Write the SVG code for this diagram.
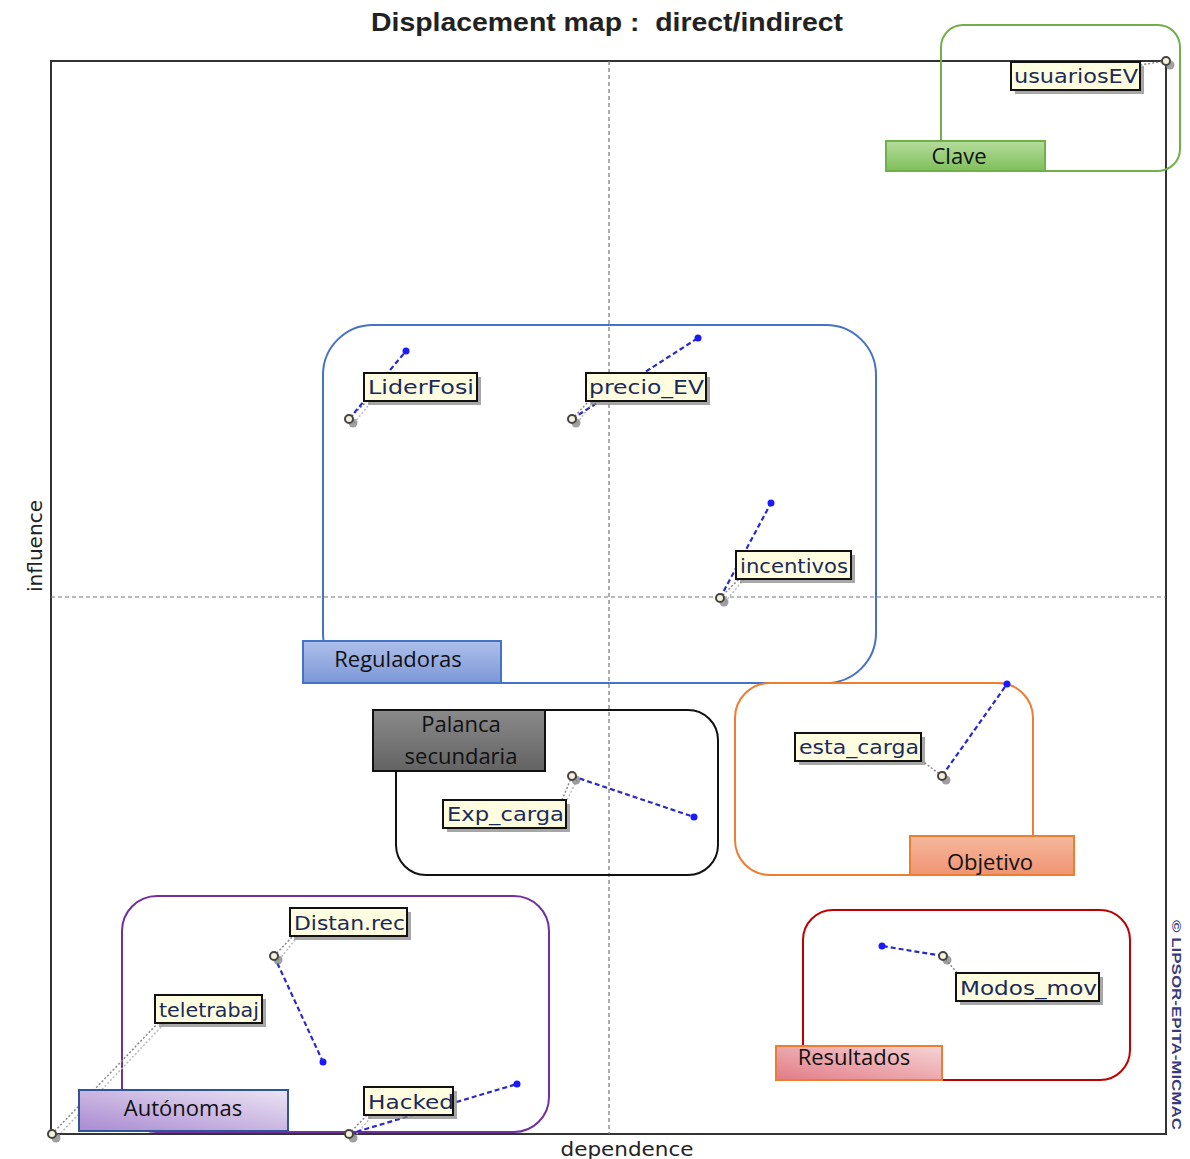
<svg xmlns="http://www.w3.org/2000/svg" width="1190" height="1159" viewBox="0 0 1190 1159">
  <defs>
    <style>
      .title{font-family:"Liberation Sans",Arial,sans-serif;font-weight:bold;font-size:26px;fill:#222}
      .axis{font-family:"DejaVu Sans","Liberation Sans",sans-serif;font-size:20px;fill:#222}
      .frame{fill:none;stroke:#333;stroke-width:2}
      .mid{fill:none;stroke:#777;stroke-width:1.2;stroke-dasharray:4 3}
      .lbl{fill:#fffde0;stroke:#111;stroke-width:2}
      .shadow{fill:#8a8a8a;opacity:0.75}
      .vname{font-family:"DejaVu Sans","Liberation Sans",sans-serif;font-size:20px;fill:#1a2a5a}
      .move{stroke:#2a2ac8;stroke-width:2.2;stroke-dasharray:5 3;fill:none}
      .dot{fill:#1a1aff}
      .lead{stroke:#888;stroke-width:1.5;stroke-dasharray:2 2;fill:none}
      .lead2{stroke:#bbb;stroke-width:1.5;stroke-dasharray:2 2;fill:none}
      .orig{fill:#f4f2d8;stroke:#444;stroke-width:2}
      .oshadow{fill:#777;opacity:0.7}
      .gname{font-family:"Open Sans","Liberation Sans",sans-serif;font-size:22px;fill:#111}
      .copy{font-family:"Liberation Sans",sans-serif;font-size:12px;font-weight:bold;fill:#3a3a7a}
    </style>
    <linearGradient id="gGreen" x1="0" y1="0" x2="0" y2="1">
      <stop offset="0" stop-color="#b5dc9c"/><stop offset="1" stop-color="#7fbf5a"/>
    </linearGradient>
    <linearGradient id="gBlue" x1="0" y1="0" x2="0" y2="1">
      <stop offset="0" stop-color="#aebfea"/><stop offset="1" stop-color="#7c97d8"/>
    </linearGradient>
    <linearGradient id="gGray" x1="0" y1="0" x2="0" y2="1">
      <stop offset="0" stop-color="#8a8a8a"/><stop offset="1" stop-color="#636363"/>
    </linearGradient>
    <linearGradient id="gOrange" x1="0" y1="0" x2="0" y2="1">
      <stop offset="0" stop-color="#f6b89c"/><stop offset="1" stop-color="#ef9473"/>
    </linearGradient>
    <linearGradient id="gPurple" x1="0" y1="1" x2="1" y2="0">
      <stop offset="0" stop-color="#a98ad0"/><stop offset="1" stop-color="#ece4f4"/>
    </linearGradient>
    <linearGradient id="gRed" x1="0" y1="1" x2="1" y2="0">
      <stop offset="0" stop-color="#e27b86"/><stop offset="1" stop-color="#f6d4d6"/>
    </linearGradient>
  </defs>

  <rect x="0" y="0" width="1190" height="1159" fill="#ffffff"/>

  <!-- chart frame and quadrant lines -->
  <g id="chart">
    <rect x="51" y="61" width="1115" height="1073" fill="#fcfcfc" class="frame"/>
    <line class="mid" x1="609" y1="61" x2="609" y2="1134"/>
    <line class="mid" x1="51" y1="597" x2="1166" y2="597"/>
    <text class="title" x="607" y="31" text-anchor="middle" textLength="472" lengthAdjust="spacingAndGlyphs" xml:space="preserve">Displacement map :  direct/indirect</text>
    <text class="axis" x="627" y="1156" text-anchor="middle" textLength="133" lengthAdjust="spacingAndGlyphs">dependence</text>
    <text class="axis" transform="translate(42,546) rotate(-90)" text-anchor="middle" textLength="92" lengthAdjust="spacingAndGlyphs">influence</text>
    <text class="copy" transform="translate(1172,1025) rotate(90)" text-anchor="middle" textLength="210" lengthAdjust="spacingAndGlyphs">© LIPSOR-EPITA-MICMAC</text>
  </g>

  <!-- cluster outlines -->
  <g id="cluster-clave">
    <rect x="941" y="25" width="239" height="146" rx="22" fill="none" stroke="#6fb04a" stroke-width="2"/>
  </g>
  <g id="cluster-reguladoras">
    <rect x="323" y="325" width="553" height="358" rx="50" fill="none" stroke="#4472c4" stroke-width="2"/>
  </g>
  <g id="cluster-palanca">
    <rect x="396" y="710" width="322" height="165" rx="30" fill="none" stroke="#111" stroke-width="2"/>
  </g>
  <g id="cluster-objetivo">
    <rect x="735" y="683" width="298" height="192" rx="35" fill="none" stroke="#ed7d31" stroke-width="2"/>
  </g>
  <g id="cluster-autonomas">
    <rect x="122" y="896" width="427" height="236" rx="35" fill="none" stroke="#7030a0" stroke-width="2"/>
  </g>
  <g id="cluster-resultados">
    <rect x="803" y="910" width="327" height="170" rx="30" fill="none" stroke="#c00000" stroke-width="2"/>
  </g>

  <!-- displacement connectors: direct position (circle) to indirect position (dot), plus label leaders -->
  <g id="connectors">
    <!-- leaders -->
    <line class="lead" x1="1166" y1="61" x2="1140" y2="65"/>
    <line class="lead" x1="349" y1="419" x2="368" y2="400"/><line class="lead2" x1="354" y1="423" x2="372" y2="401"/>
    <line class="lead" x1="572" y1="419" x2="590" y2="400"/><line class="lead2" x1="577" y1="423" x2="594" y2="401"/>
    <line class="lead" x1="720" y1="598" x2="740" y2="578"/><line class="lead2" x1="725" y1="602" x2="744" y2="579"/>
    <line class="lead" x1="942" y1="776" x2="921" y2="760"/>
    <line class="lead" x1="572" y1="776" x2="562" y2="800"/><line class="lead2" x1="577" y1="780" x2="567" y2="800"/>
    <line class="lead" x1="943" y1="956" x2="958" y2="974"/>
    <line class="lead" x1="274" y1="956" x2="294" y2="935"/><line class="lead2" x1="279" y1="960" x2="298" y2="936"/>
    <line class="lead" x1="52" y1="1134" x2="158" y2="1023"/><line class="lead2" x1="58" y1="1136" x2="164" y2="1024"/>
    <line class="lead" x1="349" y1="1134" x2="368" y2="1114"/><line class="lead2" x1="354" y1="1137" x2="373" y2="1115"/>
    <!-- movements -->
    <line class="move" x1="349" y1="419" x2="406" y2="351"/>
    <line class="move" x1="572" y1="419" x2="698" y2="338"/>
    <line class="move" x1="720" y1="598" x2="771" y2="503"/>
    <line class="move" x1="942" y1="776" x2="1007" y2="684"/>
    <line class="move" x1="572" y1="776" x2="694" y2="817"/>
    <line class="move" x1="943" y1="956" x2="882" y2="946"/>
    <line class="move" x1="274" y1="956" x2="323" y2="1062"/>
    <line class="move" x1="349" y1="1134" x2="517" y2="1084"/>
  </g>

  <!-- variables -->
  <g id="var-usuariosEV">
    <circle class="oshadow" cx="1170" cy="65" r="4.5"/><circle class="orig" cx="1166" cy="61" r="4"/>
    <rect class="shadow" x="1015" y="66" width="129" height="28"/>
    <rect class="lbl" x="1011" y="62" width="129" height="28"/>
    <text class="vname" x="1014" y="83" textLength="124" lengthAdjust="spacingAndGlyphs">usuariosEV</text>
  </g>
  <g id="var-LiderFosi">
    <circle class="dot" cx="406" cy="351" r="3.5"/>
    <circle class="oshadow" cx="353" cy="423" r="4.5"/><circle class="orig" cx="349" cy="419" r="4"/>
    <rect class="shadow" x="368" y="377" width="113" height="28"/>
    <rect class="lbl" x="364" y="373" width="113" height="28"/>
    <text class="vname" x="368" y="394" textLength="106" lengthAdjust="spacingAndGlyphs">LiderFosi</text>
  </g>
  <g id="var-precio_EV">
    <circle class="dot" cx="698" cy="338" r="3.5"/>
    <circle class="oshadow" cx="576" cy="423" r="4.5"/><circle class="orig" cx="572" cy="419" r="4"/>
    <rect class="shadow" x="590" y="377" width="120" height="28"/>
    <rect class="lbl" x="586" y="373" width="120" height="28"/>
    <text class="vname" x="589" y="394" textLength="115" lengthAdjust="spacingAndGlyphs">precio_EV</text>
  </g>
  <g id="var-incentivos">
    <circle class="dot" cx="771" cy="503" r="3.5"/>
    <circle class="oshadow" cx="724" cy="602" r="4.5"/><circle class="orig" cx="720" cy="598" r="4"/>
    <rect class="shadow" x="740" y="555" width="115" height="28"/>
    <rect class="lbl" x="736" y="551" width="115" height="28"/>
    <text class="vname" x="740" y="573" textLength="108" lengthAdjust="spacingAndGlyphs">incentivos</text>
  </g>
  <g id="var-esta_carga">
    <circle class="dot" cx="1007" cy="684" r="3.5"/>
    <circle class="oshadow" cx="946" cy="780" r="4.5"/><circle class="orig" cx="942" cy="776" r="4"/>
    <rect class="shadow" x="799" y="737" width="126" height="28"/>
    <rect class="lbl" x="795" y="733" width="126" height="28"/>
    <text class="vname" x="799" y="754" textLength="120" lengthAdjust="spacingAndGlyphs">esta_carga</text>
  </g>
  <g id="var-Exp_carga">
    <circle class="dot" cx="694" cy="817" r="3.5"/>
    <circle class="oshadow" cx="576" cy="780" r="4.5"/><circle class="orig" cx="572" cy="776" r="4"/>
    <rect class="shadow" x="447" y="804" width="123" height="28"/>
    <rect class="lbl" x="443" y="800" width="123" height="28"/>
    <text class="vname" x="447" y="821" textLength="117" lengthAdjust="spacingAndGlyphs">Exp_carga</text>
  </g>
  <g id="var-Modos_mov">
    <circle class="dot" cx="882" cy="946" r="3.5"/>
    <circle class="oshadow" cx="947" cy="960" r="4.5"/><circle class="orig" cx="943" cy="956" r="4"/>
    <rect class="shadow" x="960" y="977" width="143" height="28"/>
    <rect class="lbl" x="956" y="973" width="143" height="28"/>
    <text class="vname" x="960" y="995" textLength="137" lengthAdjust="spacingAndGlyphs">Modos_mov</text>
  </g>
  <g id="var-Distan_rec">
    <circle class="dot" cx="323" cy="1062" r="3.5"/>
    <circle class="oshadow" cx="278" cy="960" r="4.5"/><circle class="orig" cx="274" cy="956" r="4"/>
    <rect class="shadow" x="294" y="912" width="117" height="28"/>
    <rect class="lbl" x="290" y="908" width="117" height="28"/>
    <text class="vname" x="294" y="930" textLength="111" lengthAdjust="spacingAndGlyphs">Distan.rec</text>
  </g>
  <g id="var-teletrabaj">
    <circle class="oshadow" cx="56" cy="1138" r="4.5"/><circle class="orig" cx="52" cy="1134" r="4"/>
    <rect class="shadow" x="159" y="999" width="107" height="28"/>
    <rect class="lbl" x="155" y="995" width="107" height="28"/>
    <text class="vname" x="159" y="1017" textLength="100" lengthAdjust="spacingAndGlyphs">teletrabaj</text>
  </g>
  <g id="var-Hacked">
    <circle class="dot" cx="517" cy="1084" r="3.5"/>
    <circle class="oshadow" cx="353" cy="1138" r="4.5"/><circle class="orig" cx="349" cy="1134" r="4"/>
    <rect class="shadow" x="368" y="1091" width="89" height="28"/>
    <rect class="lbl" x="364" y="1087" width="89" height="28"/>
    <text class="vname" x="368" y="1109" textLength="86" lengthAdjust="spacingAndGlyphs">Hacked</text>
  </g>

  <!-- cluster captions -->
  <g id="tag-clave">
    <rect x="886" y="141" width="159" height="30" fill="url(#gGreen)" stroke="#6fb04a" stroke-width="2"/>
    <text class="gname" x="959" y="164" text-anchor="middle">Clave</text>
  </g>
  <g id="tag-reguladoras">
    <rect x="303" y="641" width="198" height="42" fill="url(#gBlue)" stroke="#4472c4" stroke-width="2"/>
    <text class="gname" x="398" y="667" text-anchor="middle">Reguladoras</text>
  </g>
  <g id="tag-palanca">
    <rect x="373" y="710" width="172" height="61" fill="url(#gGray)" stroke="#111" stroke-width="2"/>
    <text class="gname" x="461" y="732" text-anchor="middle">Palanca</text>
    <text class="gname" x="461" y="764" text-anchor="middle">secundaria</text>
  </g>
  <g id="tag-objetivo">
    <rect x="910" y="836" width="164" height="39" fill="url(#gOrange)" stroke="#ed7d31" stroke-width="2"/>
    <text class="gname" x="990" y="870" text-anchor="middle">Objetivo</text>
  </g>
  <g id="tag-autonomas">
    <rect x="79" y="1090" width="209" height="41" fill="url(#gPurple)" stroke="#2f5597" stroke-width="2"/>
    <text class="gname" x="183" y="1116" text-anchor="middle">Autónomas</text>
  </g>
  <g id="tag-resultados">
    <rect x="776" y="1046" width="166" height="34" fill="url(#gRed)" stroke="#ed7d31" stroke-width="2"/>
    <text class="gname" x="854" y="1065" text-anchor="middle">Resultados</text>
  </g>
</svg>
